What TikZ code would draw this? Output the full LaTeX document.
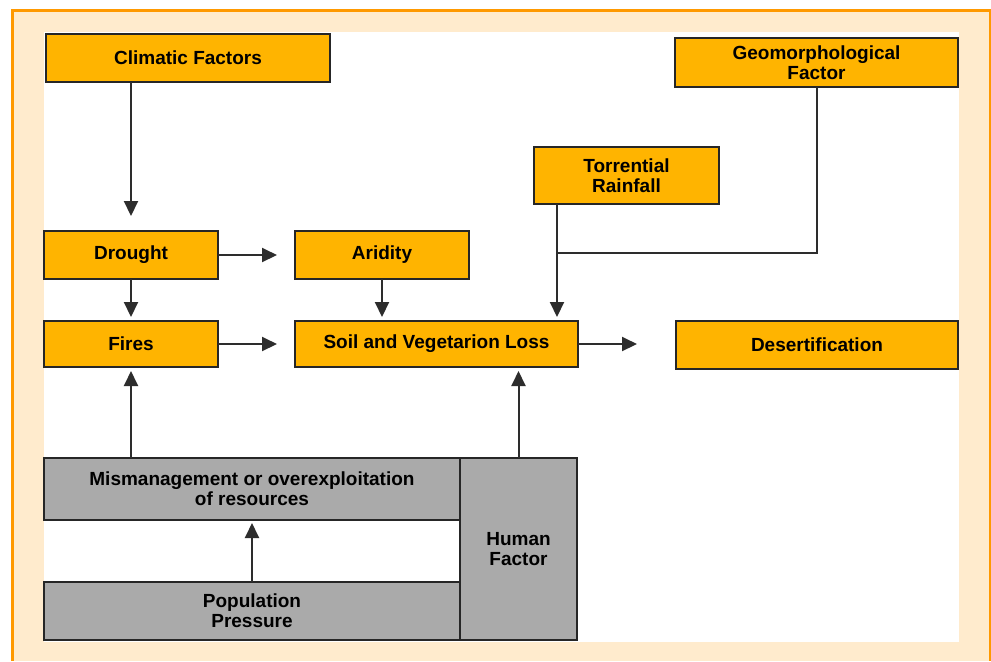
\documentclass[tikz,border=0pt]{standalone}
\usepackage{fontspec}
\setmainfont{Liberation Sans}
\usepackage{tikz}
\usetikzlibrary{arrows.meta}

\definecolor{boxorange}{RGB}{255,180,0}
\definecolor{boxgray}{RGB}{170,170,170}
\definecolor{cream}{RGB}{255,235,205}
\definecolor{frameorange}{RGB}{255,153,0}
\definecolor{linegray}{RGB}{45,45,45}

\begin{document}
\begin{tikzpicture}[x=0.5pt, y=-0.5pt]
\tikzset{inner sep=0pt, outer sep=0pt}
\tikzset{orangebox/.style={draw=black!85, line width=1pt, fill=boxorange, align=center,
    font=\fontsize{9.5}{10}\selectfont\bfseries}}
\tikzset{graybox/.style={draw=black!85, line width=1pt, fill=boxgray, align=center,
    font=\fontsize{9.5}{10}\selectfont\bfseries}}
\tikzset{arr/.style={-{Triangle[width=7pt,length=7.5pt]}, draw=linegray, line width=1pt}}
\tikzset{link/.style={draw=linegray, line width=1pt}}

\useasboundingbox (0,0) rectangle (991,661);

%\draw [dotted,thin] (0,0) rectangle (991,661);

\fill [white] (0,0) rectangle (991,661);
\fill [cream] (12,10) rectangle (990,661);
\draw [frameorange, line width=1.5pt] (12,661) -- (12,10) -- (990,10) -- (990,661);
\fill [white] (44,32) rectangle (959,642);

\node [orangebox, minimum width=142pt, minimum height=24pt] (climatic) at (188,58) {Climatic Factors};
\node [orangebox, minimum width=141.5pt, minimum height=24.5pt] (geomorph) at (816.5,62.5) {Geomorphological\\Factor};
\node [orangebox, minimum width=92.5pt, minimum height=28.5pt] (torrential) at (626.5,175.5) {Torrential\\Rainfall};

\node [orangebox, minimum width=87pt, minimum height=24pt] (drought) at (131,255) {Drought};
\node [orangebox, minimum width=87pt, minimum height=24pt] (aridity) at (382,255) {Aridity};

\node [orangebox, minimum width=87pt, minimum height=23pt] (fires) at (131,344) {Fires};
\node [orangebox, minimum width=141.5pt, minimum height=23pt] (soil) at (436.5,344) {Soil and Vegetarion Loss};
\node [orangebox, minimum width=141pt, minimum height=24pt] (desert) at (817,345) {Desertification};

\node [graybox, minimum width=208pt, minimum height=31pt] (mism) at (252,489) {Mismanagement or overexploitation\\of resources};
\node [graybox, minimum width=58.5pt, minimum height=91pt] (human) at (518.5,549) {Human\\Factor};
\node [graybox, minimum width=208pt, minimum height=29pt] (pop) at (252,611) {Population\\Pressure};

% arrows
\draw [arr, shorten >=7.5pt] (climatic.south -| drought.north) -- (drought.north);
\draw [arr, shorten >=2pt] (drought.south) -- (fires.north);
\draw [arr, shorten >=9pt] (drought.east) -- (aridity.west);
\draw [arr, shorten >=9pt] (fires.east) -- (soil.west);
\draw [arr, shorten >=2pt] (aridity.south) -- (soil.north -| aridity.south);
\draw [arr, shorten >=19.5pt] (soil.east) -- (desert.west |- soil.east);

\coordinate (join) at (557,253);
\draw [link] (geomorph.south) -- (geomorph.south |- join) -- (join);
\draw [arr, shorten >=2pt] (torrential.south -| join) -- (soil.north -| join);

\draw [arr, shorten >=2pt] (mism.north -| fires.south) -- (fires.south);
\draw [arr, shorten >=2pt] (human.north) -- (human.north |- soil.south);
\draw [arr, shorten >=1.5pt] (pop.north) -- (mism.south);

\end{tikzpicture}
\end{document}
